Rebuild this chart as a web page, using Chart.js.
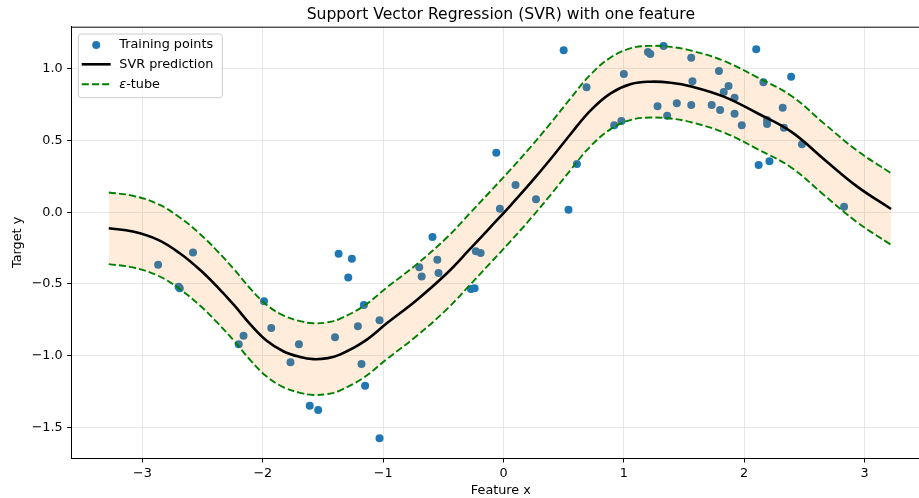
<!DOCTYPE html>
<html><head><meta charset="utf-8">
<script src="https://cdn.jsdelivr.net/npm/chart.js@4.4.1/dist/chart.umd.min.js"></script>
<style>html,body{margin:0;padding:0;background:#fff;overflow:hidden}#c{display:block;width:934px;height:498px}</style>
</head><body><canvas id="c" width="934" height="498"></canvas>
<script>
// ---- data ----
const trainX = [-2.87,-2.58,-2.70,-2.69,-2.20,-2.16,-1.99,-1.93,-1.77,-1.70,
  -1.61,-1.54,-1.40,-1.37,-1.29,-1.26,-1.21,-1.18,-1.16,-1.15,
  -1.03,-1.03,-0.70,-0.68,-0.59,-0.55,-0.54,-0.27,-0.24,-0.23,
  -0.19,-0.06,-0.03,0.10,0.27,0.50,0.54,0.61,0.69,0.92,
  0.98,1.00,1.20,1.22,1.28,1.33,1.36,1.44,1.56,1.56,
  1.57,1.73,1.79,1.80,1.83,1.87,1.92,1.92,1.98,2.10,
  2.12,2.16,2.19,2.19,2.21,2.32,2.33,2.39,2.48,2.83];
const trainY = [-0.366,-0.28,-0.52,-0.53,-0.921,-0.861,-0.621,-0.807,-1.047,-0.921,
  -1.35,-1.38,-0.872,-0.29,-0.456,-0.324,-0.796,-1.059,-0.647,-1.21,
  -0.754,-1.577,-0.384,-0.449,-0.172,-0.331,-0.424,-0.535,-0.53,-0.272,
  -0.284,0.416,0.025,0.19,0.09,1.13,0.018,0.337,0.872,0.607,
  0.637,0.965,1.119,1.105,0.74,1.16,0.674,0.761,1.079,0.749,
  0.914,0.749,0.986,0.714,0.839,0.881,0.80,0.688,0.607,1.137,
  0.33,0.907,0.644,0.616,0.356,0.73,0.59,0.946,0.474,0.039];
const gridX = [-3.28,-3.08,-2.87,-2.69,-2.52,-2.38,-2.24,-2.10,-1.97,-1.83,-1.69,-1.58,-1.46,-1.36,-1.16,-0.97,-0.72,-0.47,-0.28,-0.11,0.05,0.23,0.39,0.56,0.72,0.89,1.06,1.22,1.39,1.56,1.83,2.11,2.39,2.67,2.94,3.22];
const predY = [-0.112,-0.135,-0.193,-0.286,-0.403,-0.519,-0.647,-0.786,-0.895,-0.970,-1.010,-1.025,-1.018,-0.994,-0.903,-0.775,-0.612,-0.426,-0.258,-0.105,0.040,0.210,0.370,0.548,0.708,0.830,0.895,0.911,0.904,0.878,0.807,0.691,0.563,0.365,0.179,0.023];
const upperY = [0.138,0.115,0.057,-0.036,-0.153,-0.269,-0.397,-0.536,-0.645,-0.720,-0.760,-0.775,-0.768,-0.744,-0.653,-0.525,-0.362,-0.176,-0.008,0.145,0.290,0.460,0.620,0.798,0.958,1.080,1.145,1.161,1.154,1.128,1.057,0.941,0.813,0.615,0.429,0.273];
const lowerY = [-0.362,-0.385,-0.443,-0.536,-0.653,-0.769,-0.897,-1.036,-1.145,-1.220,-1.260,-1.275,-1.268,-1.244,-1.153,-1.025,-0.862,-0.676,-0.508,-0.355,-0.210,-0.040,0.120,0.298,0.458,0.580,0.645,0.661,0.654,0.628,0.557,0.441,0.313,0.115,-0.071,-0.227];
const xTicks = [-3,-2,-1,0,1,2,3];
const yTicks = [-1.5,-1.0,-0.5,0.0,0.5,1.0];
const chartTitle = 'Support Vector Regression (SVR) with one feature';
const xTitle = 'Feature x';
const yTitle = 'Target y';
const seriesNames = ['Training points','SVR prediction','ε-tube'];

const FONT = 'DejaVu Sans';
Chart.defaults.font.family = FONT;
Chart.defaults.color = '#000';

const fmtNum = (v, d) => { const s = Math.abs(v).toFixed(d); return (v < -1e-9 ? '\u2212' : '') + s; };
const toPts = (xs, ys) => xs.map((x, i) => ({x, y: ys[i]}));

const mplDecor = {
  id: 'mplDecor',
  afterDraw(chart) {
    const ctx = chart.ctx, a = chart.chartArea;
    ctx.save();
    ctx.strokeStyle = '#000'; ctx.lineWidth = 1;
    ctx.beginPath(); ctx.moveTo(a.left, a.top + 0.5); ctx.lineTo(a.right, a.top + 0.5); ctx.stroke();
    ctx.fillStyle = '#000';
    ctx.font = '15.6px "' + FONT + '"';
    ctx.textAlign = 'center'; ctx.textBaseline = 'alphabetic';
    ctx.fillText(chartTitle, (a.left + a.right) / 2, a.top - 7.6);
    const bx = a.left + 6.6, by = a.top + 7.3, bw = 144, bh = 63.7, r = 3;
    ctx.beginPath();
    ctx.moveTo(bx + r, by); ctx.lineTo(bx + bw - r, by); ctx.arcTo(bx + bw, by, bx + bw, by + r, r);
    ctx.lineTo(bx + bw, by + bh - r); ctx.arcTo(bx + bw, by + bh, bx + bw - r, by + bh, r);
    ctx.lineTo(bx + r, by + bh); ctx.arcTo(bx, by + bh, bx, by + bh - r, r);
    ctx.lineTo(bx, by + r); ctx.arcTo(bx, by, bx + r, by, r); ctx.closePath();
    ctx.fillStyle = 'rgba(255,255,255,0.8)'; ctx.fill();
    ctx.strokeStyle = '#cccccc'; ctx.lineWidth = 1; ctx.stroke();
    const rows = [a.top + 18.3, a.top + 37.6, a.top + 57.6];
    const hx0 = a.left + 10, hx1 = a.left + 39, tx = a.left + 47.6;
    ctx.fillStyle = '#1f77b4';
    ctx.beginPath(); ctx.arc((hx0 + hx1) / 2, rows[0], 4, 0, Math.PI * 2); ctx.fill();
    ctx.strokeStyle = '#000'; ctx.lineWidth = 2.6;
    ctx.beginPath(); ctx.moveTo(hx0, rows[1]); ctx.lineTo(hx1, rows[1]); ctx.stroke();
    ctx.strokeStyle = '#008000'; ctx.lineWidth = 1.9; ctx.setLineDash([7.1, 3.1]);
    ctx.beginPath(); ctx.moveTo(hx0, rows[2]); ctx.lineTo(hx1, rows[2]); ctx.stroke();
    ctx.setLineDash([]);
    ctx.fillStyle = '#000'; ctx.textAlign = 'left'; ctx.textBaseline = 'middle';
    ctx.font = '12.8px "' + FONT + '"';
    ctx.fillText(seriesNames[0], tx, rows[0]);
    ctx.fillText(seriesNames[1], tx, rows[1]);
    const eps = seriesNames[2].charAt(0), rest = seriesNames[2].slice(1);
    ctx.font = 'italic 12.8px "' + FONT + '"';
    ctx.fillText(eps, tx, rows[2]);
    const w = ctx.measureText(eps).width;
    ctx.font = '12.8px "' + FONT + '"';
    ctx.fillText(rest, tx + w, rows[2]);
    ctx.restore();
  }
};

const lineCommon = { showLine: true, pointRadius: 0, tension: 0.4 };

new Chart(document.getElementById('c'), {
  type: 'scatter',
  data: {
    datasets: [
      { label: seriesNames[0], data: toPts(trainX, trainY), backgroundColor: '#1f77b4',
        pointRadius: 4, pointBorderWidth: 0, pointHoverRadius: 4, order: 4 },
      Object.assign({ label: seriesNames[2], data: toPts(gridX, upperY), borderColor: '#008000',
        borderWidth: 1.9, borderDash: [7.1, 3.1],
        fill: '+1', backgroundColor: 'rgba(255,127,14,0.15)', order: 3 }, lineCommon),
      Object.assign({ label: seriesNames[2] + ' low', data: toPts(gridX, lowerY), borderColor: '#008000',
        borderWidth: 1.9, borderDash: [7.1, 3.1], fill: false, order: 2 }, lineCommon),
      Object.assign({ label: seriesNames[1], data: toPts(gridX, predY), borderColor: '#000',
        borderWidth: 2.6, fill: false, order: 1 }, lineCommon)
    ]
  },
  options: {
    responsive: false, maintainAspectRatio: false, animation: false, devicePixelRatio: 1,
    layout: { padding: { top: 26.7, left: 0, right: 0, bottom: 0 } },
    plugins: { legend: { display: false }, tooltip: { enabled: false }, title: { display: false } },
    scales: {
      x: {
        type: 'linear', min: -3.588, max: 3.544,
        afterBuildTicks: s => { s.ticks = xTicks.map(v => ({ value: v })); },
        afterFit: s => { s.height = 40; s.paddingLeft = 0; s.paddingRight = 0; },
        ticks: { callback: v => fmtNum(v, 0), font: { size: 12.8 }, padding: 3, maxRotation: 0, includeBounds: false },
        grid: { color: '#e7e7e7', lineWidth: 1, tickColor: '#000', tickLength: 4.5, drawTicks: true },
        border: { color: '#000', width: 1 },
        title: { display: true, text: xTitle, font: { size: 12.8 }, padding: { top: 0, bottom: 0 } }
      },
      y: {
        type: 'linear', min: -1.715, max: 1.295,
        afterBuildTicks: s => { s.ticks = yTicks.map(v => ({ value: v })); },
        afterFit: s => { s.width = 71.7; },
        ticks: { callback: v => fmtNum(v, 1), font: { size: 12.8 }, padding: 4.5, includeBounds: false },
        grid: { color: '#e7e7e7', lineWidth: 1, tickColor: '#000', tickLength: 4.5, drawTicks: true },
        border: { color: '#000', width: 1 },
        title: { display: true, text: yTitle, font: { size: 12.8 }, padding: { top: 10, bottom: 10 } }
      }
    }
  },
  plugins: [mplDecor]
});
</script>
</body></html>
